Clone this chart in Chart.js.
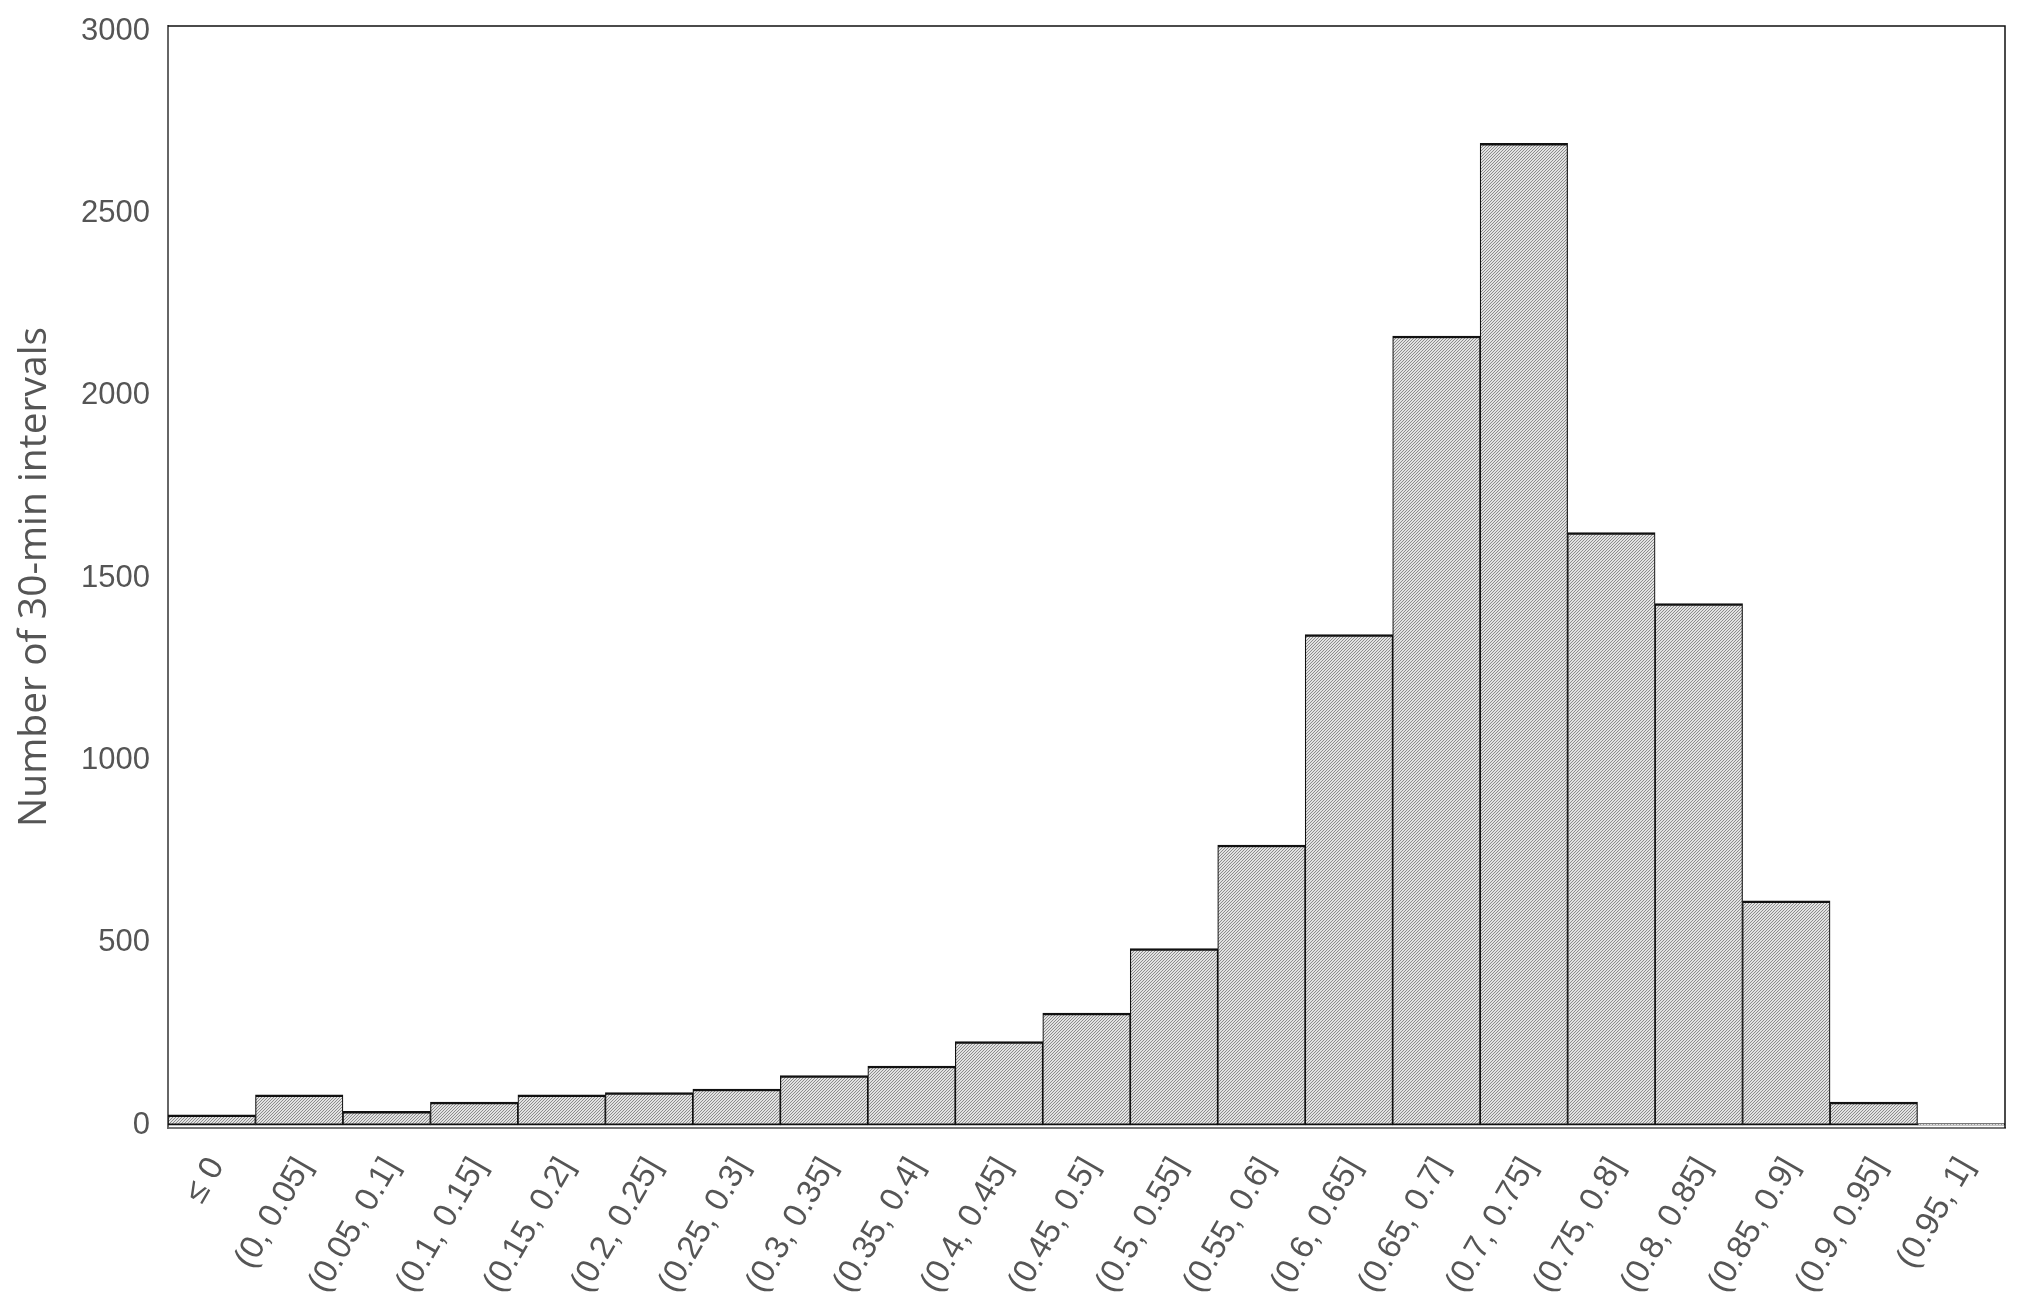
<!DOCTYPE html>
<html>
<head>
<meta charset="utf-8">
<title>Histogram</title>
<script src="https://cdn.jsdelivr.net/npm/chart.js@4/dist/chart.umd.min.js"></script>
<style>
    html, body { margin: 0; padding: 0; background: #ffffff; }
    #histChart { display: block; }
</style>
</head>
<body>
<canvas id="histChart" width="2026" height="1306"></canvas>
<script>
// Bin labels and counts
const binLabels = [
    '≤ 0', '(0, 0.05]', '(0.05, 0.1]', '(0.1, 0.15]', '(0.15, 0.2]', '(0.2, 0.25]',
    '(0.25, 0.3]', '(0.3, 0.35]', '(0.35, 0.4]', '(0.4, 0.45]', '(0.45, 0.5]',
    '(0.5, 0.55]', '(0.55, 0.6]', '(0.6, 0.65]', '(0.65, 0.7]', '(0.7, 0.75]',
    '(0.75, 0.8]', '(0.8, 0.85]', '(0.85, 0.9]', '(0.9, 0.95]', '(0.95, 1]'
];
const intervalCounts = [
    28, 83, 38, 63, 83, 89, 99, 136, 162, 229, 307,
    484, 768, 1345, 2164, 2692, 1625, 1430, 615, 63, 4
];
const yTickValues = [0, 500, 1000, 1500, 2000, 2500, 3000];

document.addEventListener('DOMContentLoaded', function() {
    initHistogram();
});

function makeHatchPattern() {
    // fine diagonal hatch like the grey bar fill
    const tile = document.createElement('canvas');
    tile.width = 3;
    tile.height = 3;
    const tctx = tile.getContext('2d');
    tctx.fillStyle = '#e2e2e2';
    tctx.fillRect(0, 0, 3, 3);
    tctx.fillStyle = '#8c8c8c';
    for (let x = 0; x < 3; x++) {
        tctx.fillRect(x, 2 - x, 1, 1);
    }
    return tctx.createPattern(tile, 'repeat');
}

// top and right edges of the plot box
const frameBox = {
    id: 'frameBox',
    afterDraw(chart) {
        const a = chart.chartArea;
        const ctx = chart.ctx;
        ctx.save();
        ctx.strokeStyle = '#111111';
        ctx.lineWidth = 1.5;
        ctx.beginPath();
        ctx.moveTo(a.left, a.top);
        ctx.lineTo(a.right, a.top);
        ctx.lineTo(a.right, a.bottom);
        ctx.stroke();
        ctx.restore();
    }
};

function initHistogram() {
    const ctx = document.getElementById('histChart');
    if (!ctx) return;

    new Chart(ctx, {
        type: 'bar',
        data: {
            labels: binLabels,
            datasets: [{
                data: intervalCounts,
                backgroundColor: makeHatchPattern(),
                borderColor: '#111111',
                borderWidth: { top: 2.5, left: 1.2, right: 1.2, bottom: 2 },
                borderSkipped: false,
                categoryPercentage: 1.0,
                barPercentage: 1.0
            }]
        },
        options: {
            responsive: false,
            animation: false,
            layout: {
                padding: { top: 26, right: 21, bottom: 0, left: 0 }
            },
            plugins: {
                legend: { display: false },
                tooltip: { enabled: false }
            },
            scales: {
                x: {
                    grid: { display: false, drawTicks: false },
                    border: { display: true, color: '#777777', width: 2 },
                    ticks: {
                        autoSkip: false,
                        maxRotation: 60,
                        minRotation: 60,
                        padding: 23,
                        labelOffset: 5,
                        color: '#555555',
                        font: { family: 'Liberation Sans', size: 33 }
                    },
                    afterFit(scale) {
                        scale.height = 178;
                        scale.paddingLeft = 0;
                        scale.paddingRight = 0;
                    }
                },
                y: {
                    min: -8,
                    max: 3014,
                    grid: { display: false, drawTicks: false },
                    border: { display: true, color: '#666666', width: 2 },
                    afterBuildTicks(scale) {
                        scale.ticks = yTickValues.map(v => ({ value: v }));
                    },
                    ticks: {
                        padding: 18,
                        color: '#555555',
                        font: { family: 'Liberation Sans', size: 31 },
                        callback: function(value) {
                            return String(value);
                        }
                    },
                    title: {
                        display: true,
                        text: 'Number of 30-min intervals',
                        color: '#555555',
                        padding: { top: 11, bottom: 0 },
                        font: { family: 'Open Sans', size: 39 }
                    },
                    afterFit(scale) {
                        scale.width = 168;
                        scale.paddingTop = 0;
                        scale.paddingBottom = 0;
                    }
                }
            }
        },
        plugins: [frameBox]
    });
}
</script>
</body>
</html>
